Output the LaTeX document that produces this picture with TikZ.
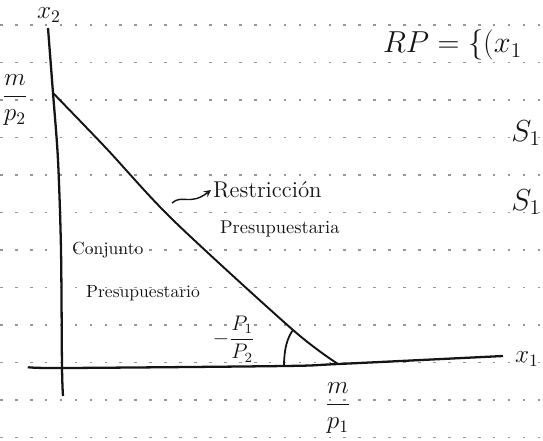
\documentclass[tikz,border=0pt]{standalone}
\usepackage{amsmath,amssymb}
\usepackage{tikz}
\usetikzlibrary{positioning,calc}
\definecolor{InkBlack}{RGB}{20, 20, 20}
\definecolor{RuleGray}{RGB}{150, 150, 150}

\begin{document}
\begin{tikzpicture}[x=0.02cm, y=-0.02cm, >=stealth,
    ruled/.style={RuleGray, line width=0.6pt, dash pattern=on 1.5pt off 7pt},
    axisline/.style={InkBlack, line width=1.3pt},
    budget/.style={InkBlack, line width=1.1pt},
    note/.style={InkBlack, inner sep=1pt}]
    \useasboundingbox (0,0) rectangle (543,440);

    % Ruled paper
    \foreach \ry in {25,62.5,...,440} {
      \draw[ruled] (0,\ry) -- (543,\ry);
    }

    % Points
    \coordinate (ytop) at (48,28);
    \coordinate (ybot) at (63,396);
    \coordinate (xleft) at (28,367);
    \coordinate (xright) at (503,356);
    \coordinate (mtwo) at (53,93);
    \coordinate (mone) at (338,364);

    % Axes and budget line
    \draw[axisline] plot[smooth] coordinates {(ytop) (mtwo) (58,160) (61,250) (62,367) (ybot)};
    \draw[axisline] plot[smooth] coordinates {(xleft) (62,368) (284,366) (mone) (xright)};
    \draw[budget] plot[smooth] coordinates {(mtwo) (106,148) (173,220) (293,330) (mone)};

    % Nodes
    \node[note, font=\Large] (xtwo) at (49,15) {$x_2$};
    \node[note, font=\Large] (mptwo) at (15,100) {$\dfrac{m}{p_2}$};
    \node[note, font=\fontsize{18.5}{22}\selectfont, anchor=west] (rp) at (381,45) {$RP=\{(x_1$};
    \node[note, font=\LARGE] (sone) at (526,133) {$S_1$};
    \node[note, font=\LARGE] (stwo) at (526,202) {$S_1$};
    \node[note, font=\fontsize{13}{15}\selectfont, anchor=west] (restr) at (211,190) {Restricción};
    \node[note, font=\fontsize{10.5}{12}\selectfont, anchor=west] (presup) at (218,229) {Presupuestaria};
    \node[note, font=\fontsize{10}{12}\selectfont, anchor=west] (conj) at (70,250) {Conjunto};
    \node[note, font=\fontsize{10}{12}\selectfont, anchor=west] (conjpres) at (84,293) {Presupuestario};
    \node[note, font=\large] (slope) at (234,339) {$-\dfrac{P_1}{P_2}$};
    \node[note, font=\Large] (mpone) at (338,408) {$\dfrac{m}{p_1}$};
    \node[note, font=\Large] (xone) at (527,359) {$x_1$};

    % Paths
    \coordinate (restrtail) at (172,203);
    \draw[->, InkBlack, line width=0.8pt] (restrtail) .. controls (182,194) and (190,206) .. (restr.west);
    \draw[InkBlack, line width=1pt] (284,366) .. controls (284,350) and (287,338) .. (293,330);
  \end{tikzpicture}
\end{document}
